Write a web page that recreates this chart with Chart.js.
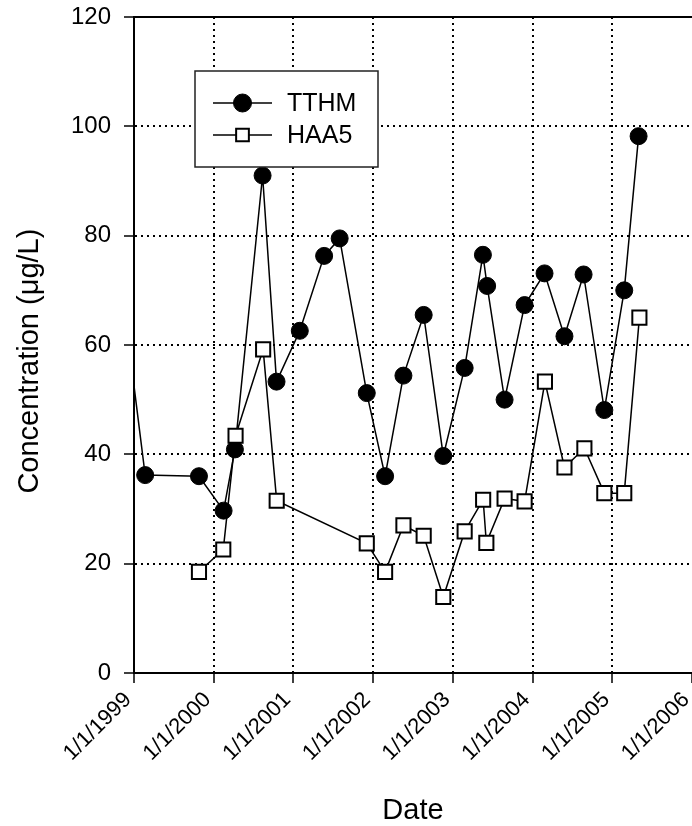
<!DOCTYPE html>
<html>
<head>
<meta charset="utf-8">
<script src="https://cdn.jsdelivr.net/npm/chart.js@4"></script>
<style>
  body { margin: 0; background: #fff; }
  canvas { display: block; }
</style>
</head>
<body>
<canvas id="concChart" width="692" height="826"></canvas>
<script>
// sample dates as decimal years
const tthmDates = [1998.85, 1999.14, 1999.815, 2000.124, 2000.266, 2000.613, 2000.788, 2001.08, 2001.385, 2001.58,
    2001.92, 2002.15, 2002.38, 2002.634, 2002.88, 2003.148, 2003.377, 2003.43, 2003.649, 2003.90,
    2004.15, 2004.40, 2004.64, 2004.90, 2005.15, 2005.33];
const tthmValues = [70, 36.2, 36.0, 29.7, 40.9, 91.0, 53.3, 62.6, 76.3, 79.5,
    51.2, 36.0, 54.4, 65.5, 39.7, 55.8, 76.5, 70.8, 50.0, 67.3,
    73.1, 61.6, 72.9, 48.1, 70.0, 98.2];

const haa5Dates = [1999.815, 2000.12, 2000.274, 2000.62, 2000.79, 2001.92, 2002.15, 2002.38, 2002.634, 2002.88,
    2003.148, 2003.38, 2003.42, 2003.649, 2003.90, 2004.155, 2004.40, 2004.65, 2004.90, 2005.15, 2005.34];
const haa5Values = [18.5, 22.6, 43.4, 59.2, 31.5, 23.7, 18.5, 27.0, 25.1, 13.9,
    25.9, 31.7, 23.8, 31.9, 31.4, 53.3, 37.6, 41.1, 32.9, 32.9, 65.0];

const yearTicks = [1999, 2000, 2001, 2002, 2003, 2004, 2005, 2006];
const yTicks = [0, 20, 40, 60, 80, 100, 120];

const FONT = "'Liberation Sans', Arial, sans-serif";

const toPoints = (xs, ys) => xs.map((x, i) => ({ x: x, y: ys[i] }));

// legend in a box inside the plot, like the original figure
const boxLegend = {
    id: "boxLegend",
    afterDraw(chart) {
        const ctx = chart.ctx;
        const area = chart.chartArea;
        const bx = area.left + 61, by = area.top + 54, bw = 183, bh = 96;
        ctx.save();
        ctx.fillStyle = "#fff";
        ctx.fillRect(bx, by, bw, bh);
        ctx.strokeStyle = "#222";
        ctx.lineWidth = 1.5;
        ctx.strokeRect(bx, by, bw, bh);
        chart.data.datasets.forEach((ds, i) => {
            const cy = by + 32 + i * 32;
            const x1 = bx + 18, x2 = bx + 77, cx = (x1 + x2) / 2;
            ctx.strokeStyle = ds.borderColor;
            ctx.lineWidth = ds.borderWidth;
            ctx.beginPath();
            ctx.moveTo(x1, cy);
            ctx.lineTo(x2, cy);
            ctx.stroke();
            ctx.fillStyle = ds.pointBackgroundColor;
            ctx.strokeStyle = ds.pointBorderColor;
            ctx.lineWidth = ds.pointBorderWidth;
            Chart.helpers.drawPoint(ctx, {
                pointStyle: ds.pointStyle,
                rotation: 0,
                radius: ds.legendRadius,
                borderWidth: ds.pointBorderWidth,
            }, cx, cy);
            ctx.fillStyle = "#000";
            ctx.font = "25px " + FONT;
            ctx.textBaseline = "middle";
            ctx.fillText(ds.label, bx + 92, cy + 1);
        });
        ctx.restore();
    },
};

const ctx = document.getElementById("concChart").getContext("2d");
const concChart = new Chart(ctx, {
    type: "line",
    data: {
        datasets: [
            {
                label: "TTHM",
                data: toPoints(tthmDates, tthmValues),
                borderColor: "#000",
                borderWidth: 1.5,
                pointStyle: "circle",
                pointRadius: 8.5,
                legendRadius: 9,
                pointBackgroundColor: "#000",
                pointBorderColor: "#000",
                pointBorderWidth: 1,
                tension: 0,
                order: 2,
            },
            {
                label: "HAA5",
                data: toPoints(haa5Dates, haa5Values),
                borderColor: "#000",
                borderWidth: 1.5,
                pointStyle: "rect",
                pointRadius: 10,
                legendRadius: 9,
                pointBackgroundColor: "#fff",
                pointBorderColor: "#000",
                pointBorderWidth: 2,
                tension: 0,
                order: 1,
            },
        ],
    },
    options: {
        responsive: false,
        animation: false,
        layout: {
            autoPadding: false,
            padding: { top: 17, left: 0, right: 0, bottom: 0 },
        },
        plugins: {
            legend: { display: false },
            tooltip: { enabled: false },
        },
        scales: {
            x: {
                type: "linear",
                position: "bottom",
                min: yearTicks[0],
                max: yearTicks[yearTicks.length - 1],
                afterBuildTicks: (scale) => {
                    scale.ticks = yearTicks.map((v) => ({ value: v }));
                },
                afterFit: (scale) => {
                    scale.height = 153;
                    scale.paddingLeft = 0;
                    scale.paddingRight = 0;
                },
                ticks: {
                    callback: (v) => "1/1/" + v,
                    minRotation: 45,
                    maxRotation: 45,
                    autoSkip: false,
                    color: "#000",
                    padding: 4,
                    labelOffset: -6,
                    font: { family: FONT, size: 22 },
                },
                grid: {
                    color: (c) => (c.tick && c.tick.value === 2006 ? "rgba(0,0,0,0)" : "#000"),
                    tickColor: "#000",
                    lineWidth: 2,
                    tickWidth: 1.5,
                    tickLength: 10,
                },
                border: { display: true, color: "#000", width: 2, dash: [2, 4] },
                title: {
                    display: true,
                    text: "Date",
                    color: "#000",
                    font: { family: FONT, size: 29, lineHeight: 1.05 },
                    padding: { top: 0, bottom: 0 },
                },
            },
            xTop: {
                type: "linear",
                position: "top",
                min: yearTicks[0],
                max: yearTicks[yearTicks.length - 1],
                afterFit: (scale) => {
                    scale.height = 0;
                    scale.paddingLeft = 0;
                    scale.paddingRight = 0;
                },
                ticks: { display: false },
                grid: { display: false, drawTicks: false },
                border: { display: true, color: "#000", width: 2 },
            },
            y: {
                min: yTicks[0],
                max: yTicks[yTicks.length - 1],
                afterBuildTicks: (scale) => {
                    scale.ticks = yTicks.map((v) => ({ value: v }));
                },
                afterFit: (scale) => {
                    scale.width = 134;
                    scale.paddingTop = 0;
                    scale.paddingBottom = 0;
                },
                ticks: {
                    color: "#000",
                    padding: 13,
                    font: { family: FONT, size: 24 },
                },
                grid: {
                    color: "#000",
                    tickColor: "#000",
                    lineWidth: 2,
                    tickWidth: 1.5,
                    tickLength: 10,
                },
                border: { display: true, color: "#000", width: 2, dash: [2, 4] },
                title: {
                    display: true,
                    // trailing spaces push the title a little below the axis centre, as in the original
                    text: "Concentration (μg/L)\u00a0\u00a0\u00a0\u00a0",
                    color: "#000",
                    font: { family: FONT, size: 29 },
                    padding: { top: 13, bottom: 0 },
                },
            },
        },
    },
    plugins: [boxLegend],
});
</script>
</body>
</html>
